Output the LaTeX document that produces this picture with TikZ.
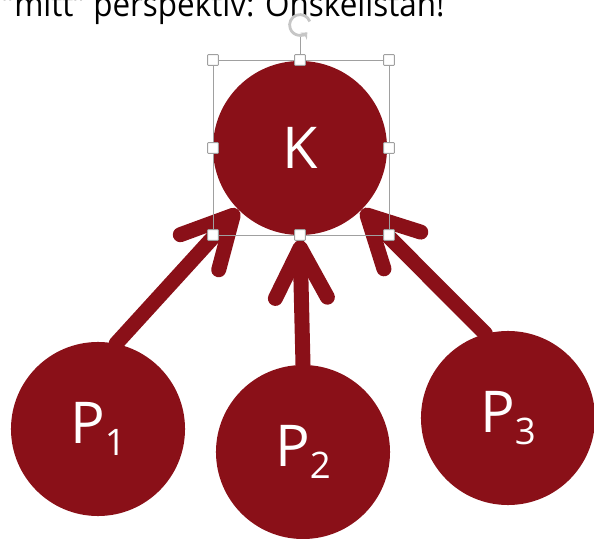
\documentclass[tikz,border=0pt]{standalone}
\usepackage{fontspec}
\setmainfont{Open Sans}
\usetikzlibrary{arrows.meta}
\definecolor{vinrod}{RGB}{138,16,24}
\definecolor{markgra}{RGB}{160,160,160}
\tikzset{
  boll/.style={circle, fill=vinrod, text=white, minimum size=4.35cm, inner sep=0pt, font=\fontsize{41}{41}\selectfont},
  pil/.style={draw=vinrod, line width=0.375cm, line cap=round, -{Straight Barb[length=1.25cm, width=1.3cm, round]}},
  handtag/.style={draw=markgra, fill=white, line width=0.6pt, minimum size=0.27cm, inner sep=0pt, rounded corners=0.5pt},
}
\newcommand{\sub}[1]{\raisebox{-0.3cm}{\fontsize{26}{26}\selectfont #1}}

\begin{document}
\begin{tikzpicture}[x=0.025cm, y=-0.025cm]
\useasboundingbox (0,0) rectangle (594,539);
% rubrik, avklippt upptill
\node[anchor=base west, inner sep=0pt, font=\fontsize{24}{24}\selectfont] (rubrik) at (14,17) {\scalebox{0.93}[1]{\llap{”}mitt” perspektiv: Önskelistan!}};
% bollarna
\node[boll] (K) at (300,148) {K};
\node[boll] (P1) at (98,429) {P\sub{1}};
\node[boll] (P2) at (303,452) {P\sub{2}};
\node[boll] (P3) at (508,418) {P\sub{3}};
% pilar
\draw[pil] (P1.78) -- (K.225);
\draw[pil] (P2.north) -- ([yshift=-0.125cm]K.south);
\draw[pil] (P3.105) -- (K.315);
% markering runt K
\coordinate (vrid) at (300,25);
\draw[markgra, line width=0.6pt] (213,60) rectangle (389,235);
\draw[markgra, line width=0.6pt] (300,60) -- (300,37);
\draw[markgra!60, line width=2pt, -{Stealth[length=4pt, width=7pt]}] ([shift={(20:0.26cm)}]vrid) arc[start angle=20, end angle=315, radius=0.26cm];
\foreach \x/\y [count=\i] in {213/60, 300/60, 389/60, 213/148, 389/148, 213/235, 300/235, 389/235}
  \node[handtag] (h\i) at (\x,\y) {};
\end{tikzpicture}
\end{document}
